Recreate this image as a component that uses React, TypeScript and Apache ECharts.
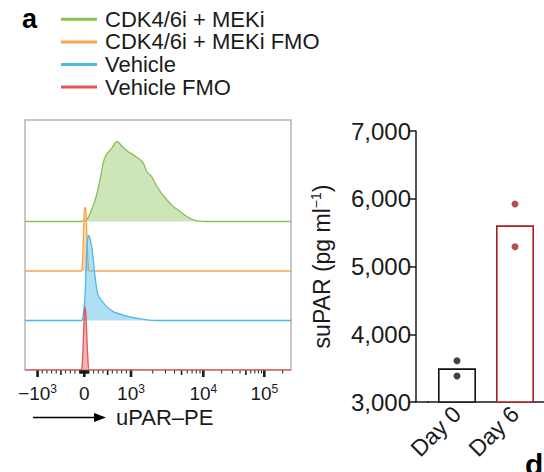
import React, { useEffect, useRef } from "react";
import * as echarts from "echarts";

const FONT = '"Liberation Sans", Arial, Helvetica, sans-serif';
const INK = "#1a1a1a";

// ---------- panel a: flow histograms (x in display channels 0–1000, y = normalised count) ----------
const seriesNames = ["CDK4/6i + MEKi", "CDK4/6i + MEKi FMO", "Vehicle", "Vehicle FMO"];
const lineColors = ["#88c057", "#f5a54a", "#4cb8e8", "#e0575b"];
const fillColors = [
  "rgba(136,192,87,0.42)",
  "rgba(245,165,74,0.45)",
  "rgba(76,184,232,0.45)",
  "rgba(224,87,91,0.45)",
];
const stackOffsets = [3, 2, 1, 0];

const histGreen: [number, number][] = [
  [0, 0], [213, 0], [219, 0.014], [234, 0.05], [251, 0.24], [270, 0.55], [286, 0.95], [294, 1.19],
  [307, 1.36], [326, 1.48], [338, 1.58], [347, 1.62], [355, 1.58], [364, 1.52], [372, 1.48],
  [380, 1.45], [388, 1.41], [401, 1.37], [417, 1.31], [432, 1.25], [445, 1.18], [458, 1.01],
  [476, 0.91], [489, 0.77], [508, 0.61], [533, 0.44], [558, 0.3], [583, 0.2], [608, 0.1],
  [633, 0.034], [658, 0.006], [683, 0], [1000, 0],
];
const histOrange: [number, number][] = [
  [0, 0], [212, 0], [215, 0.05], [218, 0.4], [221, 1.0], [224, 1.25], [226.5, 1.29], [229, 1.2],
  [232, 0.85], [235, 0.4], [238, 0.1], [242, 0], [1000, 0],
];
const histBlue: [number, number][] = [
  [0, 0], [213, 0], [219, 0.115], [225.6, 0.485], [229.3, 1.02], [233.1, 1.56], [239.5, 1.72],
  [244.4, 1.66], [250.8, 1.49], [256.8, 1.23], [263.2, 0.89], [269.5, 0.65], [275.6, 0.5],
  [288.3, 0.4], [307.1, 0.28], [331.9, 0.18], [369.5, 0.11], [407.1, 0.06], [444.7, 0.024],
  [495.1, 0], [1000, 0],
];
const histRed: [number, number][] = [
  [0, 0], [208.6, 0], [214.3, 0.06], [218, 0.4], [221.8, 1.0], [225.6, 1.28], [229.3, 1.1],
  [233.1, 0.6], [236.8, 0.2], [242.5, 0], [1000, 0],
];
const histograms = [histGreen, histOrange, histBlue, histRed];

// biexponential axis ticks (uPAR–PE fluorescence)
const majorTicks = [-1000, 0, 1000, 10000, 100000];
const majorTickLabels = ["{b|−10}{s|3}", "{b|0}", "{b|10}{s|3}", "{b|10}{s|4}", "{b|10}{s|5}"];
const mediumTicks = [-500, 500, 5000, 50000];
const minorTicks = [
  -900, -800, -700, -600, -400, -300, -200, -100,
  -90, -80, -70, -60, -50, -40, -30, -20, -10, 10, 20, 30, 40, 50, 60, 70, 80, 90,
  100, 200, 300, 400, 600, 700, 800, 900,
  2000, 3000, 4000, 6000, 7000, 8000, 9000,
  20000, 30000, 40000, 60000, 70000, 80000, 90000, 200000,
];

// display transform: linear near zero, logarithmic above 10^3
function biex(v: number): number {
  if (v <= 1000) return 222.9 + 0.1756 * v;
  if (v <= 10000) return 398.5 + (Math.log10(v) - 3) * 271.8;
  return 670.3 + (Math.log10(v) - 4) * 229.3;
}

// ---------- panel b: suPAR ----------
const days = ["Day 0", "Day 6"];
const meanSuPAR = [3497, 5608];
const day0Points = [3610, 3384];
const day6Points = [5923, 5292];
const dayColors = ["#111111", "#a41e24"];

export default function App() {
  const ref = useRef<HTMLDivElement>(null);
  useEffect(() => {
    if (!ref.current) return;
    const chart = echarts.init(ref.current, null, { renderer: "svg" });

    const tickData = [
      ...majorTicks.map((v) => [biex(v), 2]),
      ...mediumTicks.map((v) => [biex(v), 1]),
      ...minorTicks.map((v) => [biex(v), 0]),
    ];

    const histSeries = histograms.map((h, i) => ({
      name: seriesNames[i],
      type: "line",
      xAxisIndex: 0,
      yAxisIndex: 0,
      data: h.map(([x, y]) => [x, stackOffsets[i] + y]),
      smooth: 0.2,
      showSymbol: false,
      symbol: "none",
      lineStyle: { color: lineColors[i], width: 1.3 },
      itemStyle: { color: lineColors[i] },
      areaStyle: { origin: stackOffsets[i], color: fillColors[i], opacity: 1 },
      z: 2 + i,
      silent: true,
    }));

    const option: any = {
      animation: false,
      textStyle: { fontFamily: FONT },
      legend: {
        data: seriesNames,
        orient: "vertical",
        left: 61,
        top: 8,
        padding: 0,
        itemWidth: 36,
        itemHeight: 3,
        itemGap: 0,
        icon: "rect",
        selectedMode: false,
        textStyle: { fontSize: 22, fontFamily: FONT, color: INK, lineHeight: 22.6, padding: [0, 0, 0, 3] },
      },
      grid: [
        { left: 25, right: 253, top: 120, bottom: 102, show: true, borderColor: "#b5b5b5", borderWidth: 1.5 },
        { left: 428, right: -2, top: 131, bottom: 70 },
      ],
      xAxis: [
        { type: "value", gridIndex: 0, min: 0, max: 1000, show: false },
        {
          type: "category",
          gridIndex: 1,
          data: days,
          axisLine: { lineStyle: { color: INK, width: 1.5 } },
          axisTick: { alignWithLabel: true, length: 9, lineStyle: { color: INK, width: 1.5 } },
          axisLabel: { rotate: 45, fontSize: 23, color: INK, fontFamily: FONT, margin: 8, interval: 0 },
        },
      ],
      yAxis: [
        { type: "value", gridIndex: 0, min: 0, max: 5.05, show: false },
        {
          type: "value",
          gridIndex: 1,
          min: 3000,
          max: 7000,
          interval: 1000,
          offset: 12,
          splitLine: { show: false },
          axisLine: { show: true, lineStyle: { color: INK, width: 1.5 } },
          axisTick: { show: true, length: 7, lineStyle: { color: INK, width: 1.5 } },
          axisLabel: {
            fontSize: 24,
            color: INK,
            fontFamily: FONT,
            margin: 5,
            formatter: (v: number) => v.toLocaleString("en-US"),
          },
          name: "suPAR (pg ml{s|−1})",
          nameLocation: "middle",
          nameGap: 82,
          nameTextStyle: {
            fontSize: 23,
            color: INK,
            fontFamily: FONT,
            lineHeight: 25,
            rich: { s: { fontSize: 14, lineHeight: 14, verticalAlign: "top", fontFamily: FONT, color: INK } },
          },
        },
      ],
      series: [
        ...histSeries,
        {
          type: "custom",
          xAxisIndex: 0,
          yAxisIndex: 0,
          clip: false,
          silent: true,
          data: tickData,
          renderItem: (_p: any, api: any) => {
            const kind = api.value(1);
            const pt = api.coord([api.value(0), 0]);
            const len = kind === 2 ? 7 : kind === 1 ? 5 : 3.5;
            const w = kind === 2 ? 2.6 : kind === 1 ? 1.6 : 1;
            return {
              type: "line",
              shape: { x1: pt[0], y1: pt[1] + 0.5, x2: pt[0], y2: pt[1] + len },
              style: { stroke: INK, lineWidth: w },
            };
          },
          z: 10,
        },
        {
          type: "custom",
          xAxisIndex: 0,
          yAxisIndex: 0,
          clip: false,
          silent: true,
          data: majorTicks.map((v, i) => [biex(v), 0, i]),
          renderItem: (_p: any, api: any) => {
            const idx = api.value(2);
            const pt = api.coord([api.value(0), 0]);
            return {
              type: "text",
              x: pt[0],
              y: pt[1] + 13,
              style: {
                text: majorTickLabels[idx],
                align: "center",
                verticalAlign: "top",
                fill: INK,
                rich: {
                  b: { fontSize: 19, lineHeight: 20, fontFamily: FONT, fill: INK },
                  s: { fontSize: 12, lineHeight: 12, verticalAlign: "top", fontFamily: FONT, fill: INK },
                },
              },
            };
          },
          z: 10,
        },
        {
          type: "bar",
          xAxisIndex: 1,
          yAxisIndex: 1,
          barWidth: 38,
          data: meanSuPAR.map((v, i) => ({
            value: v,
            itemStyle: { color: "#ffffff", borderColor: dayColors[i], borderWidth: 1.6 },
          })),
          z: 2,
          silent: true,
        },
        {
          type: "scatter",
          xAxisIndex: 1,
          yAxisIndex: 1,
          symbolSize: 7,
          itemStyle: { color: dayColors[0] },
          data: day0Points.map((v) => [days[0], v]),
          z: 5,
          silent: true,
        },
        {
          type: "scatter",
          xAxisIndex: 1,
          yAxisIndex: 1,
          symbolSize: 7,
          itemStyle: { color: dayColors[1] },
          data: day6Points.map((v) => [days[1], v]),
          z: 5,
          silent: true,
        },
      ],
      graphic: [
        {
          type: "text",
          left: 22,
          top: 5,
          style: { text: "a", fontSize: 27, fontWeight: "bold", fontFamily: FONT, fill: "#000" },
        },
        {
          type: "line",
          shape: { x1: 33, y1: 417.5, x2: 97, y2: 417.5 },
          style: { stroke: "#000", lineWidth: 1.5 },
        },
        {
          type: "polygon",
          shape: { points: [[94, 413], [106, 417.5], [94, 422]] },
          style: { fill: "#000" },
        },
        {
          type: "text",
          x: 116,
          y: 417.5,
          style: { text: "uPAR–PE", fontSize: 22, fontFamily: FONT, fill: INK, verticalAlign: "middle" },
        },
        {
          type: "line",
          shape: { x1: 415, y1: 402, x2: 429, y2: 402 },
          style: { stroke: INK, lineWidth: 1.5 },
        },
        {
          type: "text",
          x: 525,
          y: 449,
          style: { text: "d", fontSize: 30, fontWeight: "bold", fontFamily: FONT, fill: "#000" },
        },
      ],
    };

    chart.setOption(option);
    return () => chart.dispose();
  }, []);

  return (
    <div
      ref={ref}
      style={{ position: "absolute", left: 0, top: 0, width: 544, height: 472, background: "#fff" }}
    />
  );
}
